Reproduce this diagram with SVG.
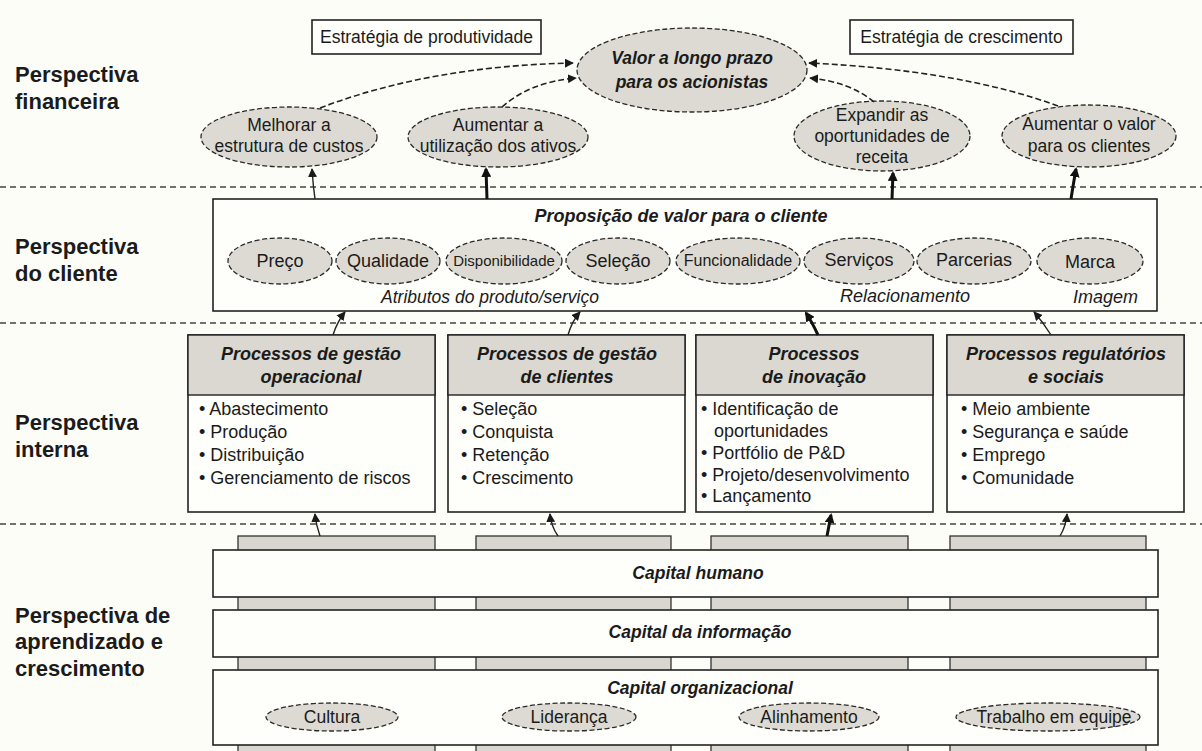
<svg xmlns="http://www.w3.org/2000/svg" width="1202" height="751" viewBox="0 0 1202 751">
<style>
.t{font-family:"Liberation Sans",Arial,Helvetica,sans-serif;fill:#1b1b1b}
.lbl{font-size:22px;font-weight:bold}
.bi{font-weight:bold;font-style:italic}
.it{font-style:italic}
.box{fill:#fefefb;stroke:#222;stroke-width:1.6}
.hdr{fill:#dad8d0;stroke:#222;stroke-width:1.4}
.col{fill:#d8d6ce;stroke:#333;stroke-width:1.3}
.oval{fill:#dcdad2;stroke:#2a2a2a;stroke-width:1.3;stroke-dasharray:5 2.5}
.sep{stroke:#444;stroke-width:1.3;stroke-dasharray:6 4;fill:none}
.dash{stroke:#222;stroke-width:1.6;stroke-dasharray:6 3;fill:none}
.thin{stroke:#222;stroke-width:1.4;fill:none}
.bold{stroke:#111;stroke-width:3;fill:none}
</style>
<defs>
<marker id="ah" viewBox="0 0 10 10" refX="9" refY="5" markerWidth="9" markerHeight="9" markerUnits="userSpaceOnUse" orient="auto">
<path d="M0,0 L10,5 L0,10 Z" fill="#1a1a1a"/>
</marker>
<marker id="ahb" viewBox="0 0 10 10" refX="8" refY="5" markerWidth="10" markerHeight="10" markerUnits="userSpaceOnUse" orient="auto">
<path d="M0,0 L10,5 L0,10 Z" fill="#111"/>
</marker>
</defs>
<rect x="0" y="0" width="1202" height="751" fill="#fdfdf8"/>

<g id="perspective-labels">
<text class="t lbl" x="15" y="82">Perspectiva</text>
<text class="t lbl" x="15" y="109">financeira</text>
<text class="t lbl" x="15" y="254">Perspectiva</text>
<text class="t lbl" x="15" y="281">do cliente</text>
<text class="t lbl" x="15" y="430">Perspectiva</text>
<text class="t lbl" x="15" y="457">interna</text>
<text class="t lbl" x="15" y="623">Perspectiva de</text>
<text class="t lbl" x="15" y="649">aprendizado e</text>
<text class="t lbl" x="15" y="676">crescimento</text>
</g>

<g id="separators">
<line class="sep" x1="0" y1="187" x2="1202" y2="187"/>
<line class="sep" x1="0" y1="323" x2="1202" y2="323"/>
<line class="sep" x1="0" y1="524" x2="1202" y2="524"/>
</g>

<!-- Financial perspective -->
<g id="strategy-productivity">
<rect class="box" x="312" y="20" width="229" height="34" stroke-width="1.2"/>
<text class="t" x="426.5" y="43" font-size="17.5" text-anchor="middle">Estratégia de produtividade</text>
</g>
<g id="strategy-growth">
<rect class="box" x="850" y="20" width="223" height="34" stroke-width="1.2"/>
<text class="t" x="961.5" y="43" font-size="17.5" text-anchor="middle">Estratégia de crescimento</text>
</g>
<g id="shareholder-value">
<ellipse class="oval" cx="692" cy="70" rx="115" ry="42"/>
<text class="t bi" x="692" y="64" font-size="17.5" text-anchor="middle">Valor a longo prazo</text>
<text class="t bi" x="692" y="88" font-size="17.5" text-anchor="middle">para os acionistas</text>
</g>
<g id="cost-structure">
<ellipse class="oval" cx="289" cy="137" rx="88" ry="30"/>
<text class="t" x="289" y="131" font-size="17.5" text-anchor="middle">Melhorar a</text>
<text class="t" x="289" y="152" font-size="17.5" text-anchor="middle">estrutura de custos</text>
</g>
<g id="asset-utilization">
<ellipse class="oval" cx="498" cy="137" rx="90" ry="30"/>
<text class="t" x="498" y="131" font-size="17.5" text-anchor="middle">Aumentar a</text>
<text class="t" x="498" y="152" font-size="17.5" text-anchor="middle">utilização dos ativos</text>
</g>
<g id="revenue-opportunities">
<ellipse class="oval" cx="882" cy="136" rx="88" ry="35"/>
<text class="t" x="882" y="121" font-size="17.5" text-anchor="middle">Expandir as</text>
<text class="t" x="882" y="142" font-size="17.5" text-anchor="middle">oportunidades de</text>
<text class="t" x="882" y="163" font-size="17.5" text-anchor="middle">receita</text>
</g>
<g id="customer-value">
<ellipse class="oval" cx="1089" cy="136" rx="87" ry="31"/>
<text class="t" x="1089" y="130" font-size="17.5" text-anchor="middle">Aumentar o valor</text>
<text class="t" x="1089" y="152" font-size="17.5" text-anchor="middle">para os clientes</text>
</g>

<!-- Customer perspective -->
<g id="value-proposition">
<rect class="box" x="213" y="199" width="944" height="112"/>
<text class="t bi" x="681" y="222" font-size="18" text-anchor="middle">Proposição de valor para o cliente</text>
<ellipse class="oval" cx="280" cy="261" rx="52" ry="23"/>
<text class="t" x="280" y="267" font-size="18" text-anchor="middle">Preço</text>
<ellipse class="oval" cx="388" cy="261" rx="52" ry="23"/>
<text class="t" x="388" y="267" font-size="18" text-anchor="middle">Qualidade</text>
<ellipse class="oval" cx="504" cy="261" rx="58" ry="23"/>
<text class="t" x="504" y="266" font-size="15" text-anchor="middle">Disponibilidade</text>
<ellipse class="oval" cx="618" cy="261" rx="52" ry="23"/>
<text class="t" x="618" y="267" font-size="18" text-anchor="middle">Seleção</text>
<ellipse class="oval" cx="738" cy="261" rx="62" ry="23"/>
<text class="t" x="738" y="266" font-size="16" text-anchor="middle">Funcionalidade</text>
<ellipse class="oval" cx="859" cy="261" rx="55" ry="23"/>
<text class="t" x="859" y="266" font-size="18" text-anchor="middle">Serviços</text>
<ellipse class="oval" cx="974" cy="261" rx="57" ry="23"/>
<text class="t" x="974" y="266" font-size="18" text-anchor="middle">Parcerias</text>
<ellipse class="oval" cx="1090" cy="261" rx="53" ry="23"/>
<text class="t" x="1090" y="268" font-size="18" text-anchor="middle">Marca</text>
<text class="t it" x="490" y="303" font-size="17.5" text-anchor="middle">Atributos do produto/serviço</text>
<text class="t it" x="905" y="302" font-size="18" text-anchor="middle">Relacionamento</text>
<text class="t it" x="1138" y="303" font-size="18" text-anchor="end">Imagem</text>
</g>

<!-- Internal perspective -->
<g id="operations-management">
<rect class="box" x="188" y="335" width="247" height="177"/>
<rect class="hdr" x="188" y="335" width="247" height="60"/>
<text class="t bi" x="311" y="360" font-size="18" text-anchor="middle">Processos de gestão</text>
<text class="t bi" x="311" y="383" font-size="18" text-anchor="middle">operacional</text>
<text class="t" x="199" y="415" font-size="18">• Abastecimento</text>
<text class="t" x="199" y="438" font-size="18">• Produção</text>
<text class="t" x="199" y="461" font-size="18">• Distribuição</text>
<text class="t" x="199" y="484" font-size="18">• Gerenciamento de riscos</text>
</g>
<g id="customer-management">
<rect class="box" x="448" y="335" width="237" height="177"/>
<rect class="hdr" x="448" y="335" width="237" height="60"/>
<text class="t bi" x="567" y="360" font-size="18" text-anchor="middle">Processos de gestão</text>
<text class="t bi" x="567" y="383" font-size="18" text-anchor="middle">de clientes</text>
<text class="t" x="461" y="415" font-size="18">• Seleção</text>
<text class="t" x="461" y="438" font-size="18">• Conquista</text>
<text class="t" x="461" y="461" font-size="18">• Retenção</text>
<text class="t" x="461" y="484" font-size="18">• Crescimento</text>
</g>
<g id="innovation">
<rect class="box" x="696" y="335" width="237" height="177"/>
<rect class="hdr" x="696" y="335" width="237" height="60"/>
<text class="t bi" x="814" y="360" font-size="18" text-anchor="middle">Processos</text>
<text class="t bi" x="814" y="383" font-size="18" text-anchor="middle">de inovação</text>
<text class="t" x="701" y="415" font-size="18">• Identificação de</text>
<text class="t" x="714" y="437" font-size="18">oportunidades</text>
<text class="t" x="701" y="459" font-size="18">• Portfólio de P&amp;D</text>
<text class="t" x="701" y="481" font-size="18">• Projeto/desenvolvimento</text>
<text class="t" x="701" y="502" font-size="18">• Lançamento</text>
</g>
<g id="regulatory-social">
<rect class="box" x="947" y="335" width="237" height="177"/>
<rect class="hdr" x="947" y="335" width="237" height="60"/>
<text class="t bi" x="1066" y="360" font-size="18" text-anchor="middle">Processos regulatórios</text>
<text class="t bi" x="1066" y="383" font-size="18" text-anchor="middle">e sociais</text>
<text class="t" x="961" y="415" font-size="18">• Meio ambiente</text>
<text class="t" x="961" y="438" font-size="18">• Segurança e saúde</text>
<text class="t" x="961" y="461" font-size="18">• Emprego</text>
<text class="t" x="961" y="484" font-size="18">• Comunidade</text>
</g>

<!-- Learning and growth -->
<g id="learning-columns">
<rect class="col" x="238" y="536" width="197" height="230"/>
<rect class="col" x="476" y="536" width="195" height="230"/>
<rect class="col" x="711" y="536" width="197" height="230"/>
<rect class="col" x="950" y="536" width="196" height="230"/>
</g>
<g id="human-capital">
<rect class="box" x="213" y="550" width="945" height="47"/>
<text class="t bi" x="698" y="579" font-size="17.5" text-anchor="middle">Capital humano</text>
</g>
<g id="information-capital">
<rect class="box" x="213" y="610" width="945" height="47"/>
<text class="t bi" x="700" y="638" font-size="17.5" text-anchor="middle">Capital da informação</text>
</g>
<g id="organizational-capital">
<rect class="box" x="213" y="670" width="945" height="75"/>
<text class="t bi" x="700" y="694" font-size="17.5" text-anchor="middle">Capital organizacional</text>
<ellipse class="oval" cx="332" cy="717" rx="66" ry="14"/>
<text class="t" x="332" y="723" font-size="17.5" text-anchor="middle">Cultura</text>
<ellipse class="oval" cx="569" cy="717" rx="67" ry="14"/>
<text class="t" x="569" y="723" font-size="17.5" text-anchor="middle">Liderança</text>
<ellipse class="oval" cx="809" cy="717" rx="70" ry="14"/>
<text class="t" x="809" y="723" font-size="17.5" text-anchor="middle">Alinhamento</text>
<ellipse class="oval" cx="1048" cy="717" rx="92" ry="14"/>
<text class="t" x="1054" y="723" font-size="17.5" text-anchor="middle">Trabalho em equipe</text>
</g>

<g id="connectors">
<path class="dash" d="M320,108 Q430,66 573,63" marker-end="url(#ah)"/>
<path class="dash" d="M502,107 Q530,82 576,78" marker-end="url(#ah)"/>
<path class="dash" d="M874,102 Q850,82 810,78" marker-end="url(#ah)"/>
<path class="dash" d="M1058,106 Q960,70 809,63" marker-end="url(#ah)"/>
<path class="thin" d="M315,199 Q313,185 312,169" marker-end="url(#ah)"/>
<path class="bold" d="M487,199 L486,169" marker-end="url(#ahb)"/>
<path class="bold" d="M892,199 L893,173" marker-end="url(#ahb)"/>
<path class="bold" d="M1071,199 Q1073,186 1076,169" marker-end="url(#ahb)"/>
<path class="thin" d="M333,335 Q337,322 345,312" marker-end="url(#ah)"/>
<path class="thin" d="M568,335 Q572,321 580,312" marker-end="url(#ah)"/>
<path class="bold" d="M818,335 Q812,322 806,313" marker-end="url(#ahb)"/>
<path class="thin" d="M1051,335 Q1043,322 1034,312" marker-end="url(#ah)"/>
<path class="thin" d="M320,536 Q316,525 315,514" marker-end="url(#ah)"/>
<path class="thin" d="M558,536 Q551,526 550,514" marker-end="url(#ah)"/>
<path class="bold" d="M827,536 L831,515" marker-end="url(#ahb)"/>
<path class="thin" d="M1060,536 Q1066,526 1067,514" marker-end="url(#ah)"/>
</g>
</svg>
